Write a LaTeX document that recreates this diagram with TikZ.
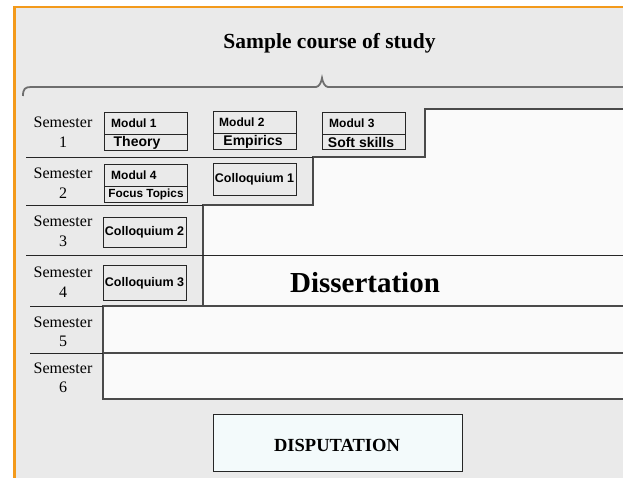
\documentclass[tikz,border=0pt]{standalone}
\usepackage{fontspec}
\setmainfont{Liberation Serif}
\newfontfamily\arialf{Liberation Sans}
\definecolor{bg}{HTML}{EAEAEA}
\definecolor{orng}{HTML}{F39A1B}
\definecolor{wfill}{HTML}{FAFAFA}
\definecolor{dfill}{HTML}{F3FAFB}
\definecolor{bracec}{HTML}{6E6E6E}
\definecolor{linec}{HTML}{4A4A4A}
\tikzset{
  modbox/.style={draw=black!85, line width=0.8pt, fill=bg, inner sep=0pt, outer sep=0pt},
  modtop/.style={font=\arialf\bfseries\fontsize{12}{14}\selectfont, inner sep=0pt, anchor=west},
  modbot/.style={font=\arialf\bfseries\fontsize{14}{16}\selectfont, inner sep=0pt},
  colltxt/.style={font=\arialf\bfseries\fontsize{12.5}{15}\selectfont, inner sep=0pt},
  semtxt/.style={font=\fontsize{16}{19}\selectfont, inner sep=0pt, anchor=base},
  sepline/.style={draw=black!85, line width=0.8pt},
  wline/.style={draw=linec, line width=1.4pt},
}
\begin{document}
\begin{tikzpicture}[x=1pt,y=-1pt]
\useasboundingbox (0,0) rectangle (623,478);
\clip (0,0) rectangle (623,478);
% background and orange frame
\fill[white] (0,0) rectangle (623,478);
\fill[orng] (13,6) rectangle (623,478);
\fill[bg] (15.5,8.5) rectangle (623,478);

% title
\node[font=\bfseries\fontsize{21.5}{24}\selectfont, inner sep=0pt, anchor=base] (title) at (329.5,49) {Sample course of study};

% brace
\draw[bracec, line width=1.8pt] (23,96) .. controls (23,89) and (25,87) .. (31,87) -- (316,87)
  .. controls (319,87) and (321.5,82) .. (322,78) .. controls (322.5,82) and (325,87) .. (328,87) -- (640,87);

% dissertation area
\fill[wfill] (425,109) -- (640,109) -- (640,399) -- (103,399) -- (103,306) -- (203,306)
  -- (203,205) -- (313,205) -- (313,157) -- (425,157) -- cycle;
\draw[wline] (640,109) -- (425,109) -- (425,157) -- (313,157) -- (313,205) -- (203,205)
  -- (203,306) -- (103,306) -- (103,399) -- (640,399);

% separators
\draw[sepline] (26,157) -- (313,157);
\draw[sepline] (26,205) -- (203,205);
\draw[sepline] (26,255) -- (640,255);
\draw[sepline] (30,306) -- (103,306);
\draw[wline] (103,306) -- (640,306);
\draw[sepline] (30,353) -- (103,353);
\draw[wline] (103,353) -- (640,353);

% semester labels
\node[semtxt] (s1) at (63,128) {Semester};
\node[semtxt] (s1n) at (63,148) {1};
\node[semtxt] (s2) at (63,179) {Semester};
\node[semtxt] (s2n) at (63,199) {2};
\node[semtxt] (s3) at (63,227) {Semester};
\node[semtxt] (s3n) at (63,247) {3};
\node[semtxt] (s4) at (63,277) {Semester};
\node[semtxt] (s4n) at (63,297) {4};
\node[semtxt] (s5) at (63,327) {Semester};
\node[semtxt] (s5n) at (63,346) {5};
\node[semtxt] (s6) at (63,373) {Semester};
\node[semtxt] (s6n) at (63,392) {6};

% Modul 1
\node[modbox, minimum width=83pt, minimum height=22pt] (m1a) at (145.5,123) {};
\node[modbox, minimum width=83pt, minimum height=16pt] (m1b) at (145.5,142) {};
\node[modtop] (m1t) at (111,123.5) {Modul 1};
\node[modbot] (m1l) at (137,142.5) {Theory};
% Modul 2
\node[modbox, minimum width=83pt, minimum height=22pt] (m2a) at (254.5,122) {};
\node[modbox, minimum width=83pt, minimum height=16pt] (m2b) at (254.5,141) {};
\node[modtop] (m2t) at (219,122.5) {Modul 2};
\node[modbot] (m2l) at (253,141.5) {Empirics};
% Modul 3
\node[modbox, minimum width=83pt, minimum height=22pt] (m3a) at (363.5,123) {};
\node[modbox, minimum width=83pt, minimum height=15pt] (m3b) at (363.5,141.5) {};
\node[modtop] (m3t) at (329,123.5) {Modul 3};
\node[modbot] (m3l) at (361,142) {Soft skills};
% Modul 4
\node[modbox, minimum width=83pt, minimum height=22pt] (m4a) at (145.5,175) {};
\node[modbox, minimum width=83pt, minimum height=16pt] (m4b) at (145.5,194) {};
\node[modtop] (m4t) at (111,175.5) {Modul 4};
\node[font=\arialf\bfseries\fontsize{11.8}{14}\selectfont, inner sep=0pt] (m4l) at (146,194.5) {Focus Topics};
% Colloquia
\node[modbox, minimum width=83pt, minimum height=32pt] (c1) at (254.5,179) {};
\node[colltxt] (c1t) at (254.5,179.5) {Colloquium 1};
\node[modbox, minimum width=83pt, minimum height=30pt] (c2) at (144.5,232) {};
\node[colltxt] (c2t) at (144.5,232.5) {Colloquium 2};
\node[modbox, minimum width=83pt, minimum height=35pt] (c3) at (144.5,282.5) {};
\node[colltxt] (c3t) at (144.5,283) {Colloquium 3};

% Dissertation
\node[font=\bfseries\fontsize{29}{32}\selectfont, inner sep=0pt, anchor=base] (diss) at (365,292) {Dissertation};

% Disputation
\node[draw=black!85, line width=0.9pt, fill=dfill, minimum width=249pt, minimum height=57pt, inner sep=0pt] (disp) at (337.5,442.5) {};
\node[font=\bfseries\fontsize{18.5}{21}\selectfont, inner sep=0pt, anchor=base] (dispt) at (337,451) {DISPUTATION};
\end{tikzpicture}
\end{document}
